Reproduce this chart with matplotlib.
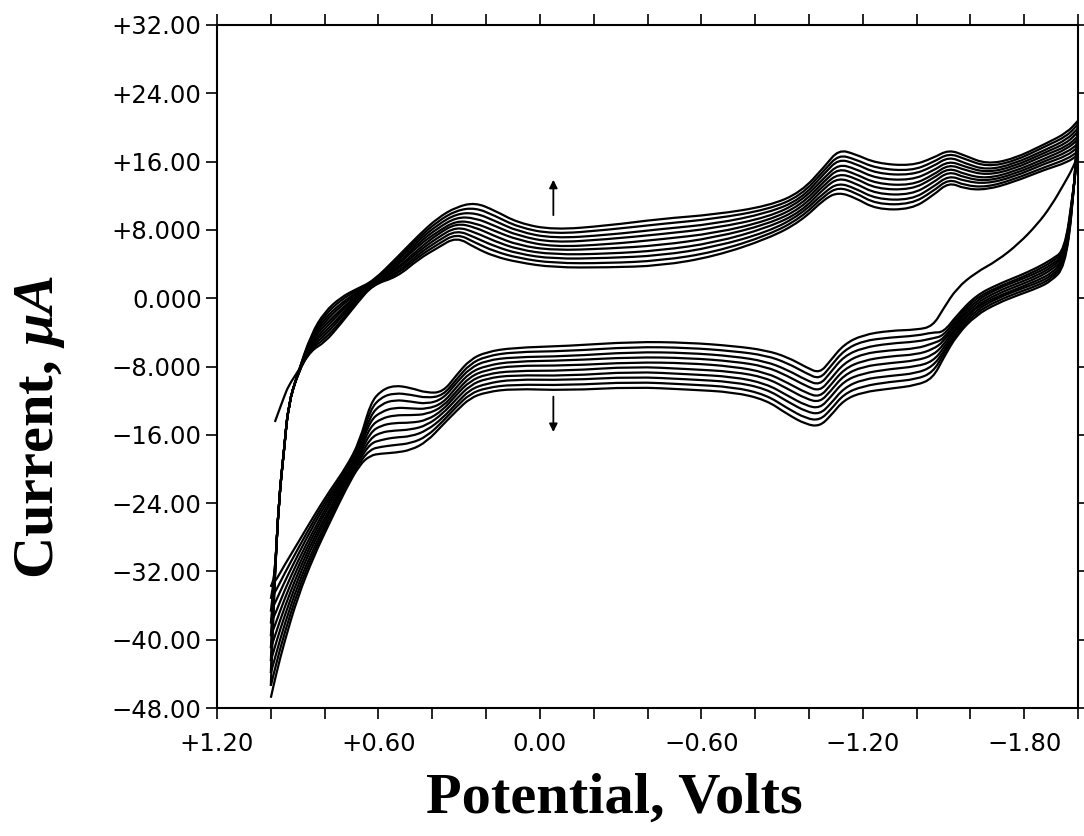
import matplotlib
matplotlib.use("Agg")
import matplotlib.pyplot as plt
from matplotlib.path import Path
from matplotlib.patches import PathPatch
import numpy as np

plt.rcParams["font.family"] = ["DejaVu Sans"]
plt.rcParams["mathtext.fontset"] = "custom"
plt.rcParams["mathtext.it"] = "Liberation Serif:italic:bold"
plt.rcParams["mathtext.rm"] = "Liberation Serif:bold"

# 数据: 10 个循环, 上支 (+1.0 -> -2.0 V), 下支 (-2.0 -> +1.0 V)
cycles = 10
upper_potential = [1.00, 0.985, 0.97, 0.95, 0.935, 0.90, 0.85, 0.80, 0.74, 0.68, 0.62,
                   0.53, 0.45, 0.38, 0.31, 0.24, 0.17, 0.08, -0.05, -0.25, -0.45, -0.65,
                   -0.85, -0.97, -1.06, -1.11, -1.17, -1.25, -1.38, -1.46, -1.52, -1.58,
                   -1.66, -1.76, -1.88, -1.96, -2.00]
# 每行: 某电位下 循环1..循环10 的电流 (uA)
upper_current = [
    [np.nan, -33.8, -35.2, -36.7, -38.1, -39.6, -41.0, -42.5, -43.9, -45.4],
    [-14.5, -32.5, -32.5, -32.5, -32.5, -32.5, -32.5, -32.5, -32.5, -32.5],
    [-13.2, -23.6, -23.6, -23.6, -23.6, -23.6, -23.6, -23.6, -23.6, -23.6],
    [-11.5, -17.5, -17.5, -17.5, -17.5, -17.5, -17.5, -17.5, -17.5, -17.5],
    [-10.3, -12.5, -12.5, -12.5, -12.5, -12.5, -12.5, -12.5, -12.5, -12.5],
    [-8.6, -8.8, -8.8, -8.8, -8.8, -8.8, -8.8, -8.8, -8.8, -8.8],
    [-6.1, -5.9, -5.7, -5.5, -5.3, -5.0, -4.8, -4.6, -4.4, -4.2],
    [-5.2, -4.8, -4.4, -4.0, -3.6, -3.2, -2.8, -2.4, -2.0, -1.6],
    [-3.0, -2.7, -2.3, -2.0, -1.6, -1.3, -0.9, -0.6, -0.2, 0.1],
    [-0.6, -0.4, -0.2, 0.0, 0.2, 0.3, 0.5, 0.7, 0.9, 1.1],
    [1.6, 1.6, 1.7, 1.7, 1.8, 1.8, 1.8, 1.9, 1.9, 2.0],
    [2.5, 2.8, 3.0, 3.3, 3.5, 3.8, 4.0, 4.3, 4.5, 4.8],
    [4.6, 4.9, 5.2, 5.5, 5.8, 6.2, 6.5, 6.8, 7.1, 7.4],
    [5.9, 6.3, 6.7, 7.1, 7.5, 7.8, 8.2, 8.6, 9.0, 9.4],
    [7.2, 7.6, 8.0, 8.4, 8.8, 9.1, 9.5, 9.9, 10.3, 10.7],
    [5.9, 6.5, 7.1, 7.7, 8.3, 8.8, 9.4, 10.0, 10.6, 11.2],
    [4.9, 5.5, 6.1, 6.7, 7.3, 7.9, 8.5, 9.1, 9.7, 10.3],
    [4.2, 4.7, 5.2, 5.7, 6.2, 6.8, 7.3, 7.8, 8.3, 8.8],
    [3.6, 4.1, 4.6, 5.1, 5.6, 6.0, 6.5, 7.0, 7.5, 8.0],
    [3.6, 4.1, 4.7, 5.2, 5.8, 6.3, 6.9, 7.4, 8.0, 8.5],
    [3.8, 4.4, 5.0, 5.6, 6.2, 6.9, 7.5, 8.1, 8.7, 9.3],
    [4.9, 5.4, 6.0, 6.5, 7.1, 7.6, 8.2, 8.7, 9.3, 9.8],
    [7.0, 7.4, 7.8, 8.3, 8.7, 9.1, 9.5, 10.0, 10.4, 10.8],
    [9.0, 9.4, 9.8, 10.1, 10.5, 10.9, 11.3, 11.6, 12.0, 12.4],
    [11.7, 12.1, 12.5, 13.0, 13.4, 13.8, 14.2, 14.7, 15.1, 15.5],
    [12.4, 13.0, 13.5, 14.1, 14.6, 15.2, 15.7, 16.3, 16.8, 17.4],
    [11.8, 12.4, 12.9, 13.5, 14.1, 14.6, 15.2, 15.8, 16.3, 16.9],
    [10.4, 11.0, 11.6, 12.2, 12.8, 13.4, 14.0, 14.6, 15.2, 15.8],
    [10.4, 11.0, 11.5, 12.1, 12.7, 13.2, 13.8, 14.4, 14.9, 15.5],
    [12.0, 12.5, 13.0, 13.5, 14.0, 14.4, 14.9, 15.4, 15.9, 16.4],
    [13.6, 14.0, 14.4, 14.9, 15.3, 15.7, 16.1, 16.6, 17.0, 17.4],
    [12.8, 13.2, 13.7, 14.1, 14.5, 15.0, 15.4, 15.8, 16.3, 16.7],
    [12.7, 13.0, 13.4, 13.7, 14.0, 14.4, 14.7, 15.0, 15.4, 15.7],
    [13.6, 13.9, 14.2, 14.5, 14.8, 15.1, 15.4, 15.7, 16.0, 16.3],
    [15.1, 15.4, 15.8, 16.1, 16.4, 16.8, 17.1, 17.4, 17.8, 18.1],
    [15.9, 16.3, 16.7, 17.1, 17.5, 17.8, 18.2, 18.6, 19.0, 19.4],
    [16.8, 17.2, 17.7, 18.1, 18.6, 19.0, 19.5, 19.9, 20.4, 20.8],
]

lower_potential = [-2.00, -1.98, -1.95, -1.90, -1.85, -1.78, -1.70, -1.62, -1.55, -1.50,
                   -1.46, -1.40, -1.30, -1.20, -1.13, -1.08, -1.04, -0.99, -0.92, -0.84,
                   -0.72, -0.55, -0.35, -0.10, 0.10, 0.20, 0.26, 0.31, 0.36, 0.42, 0.48,
                   0.54, 0.59, 0.63, 0.67, 0.72, 0.78, 0.84, 0.90, 0.95, 0.98, 1.00]
lower_current = [
    [16.8, 17.2, 17.7, 18.1, 18.6, 19.0, 19.5, 19.9, 20.4, 20.8],
    [15.2, 12.0, 11.8, 11.6, 11.4, 11.2, 11.0, 10.8, 10.6, 10.4],
    [13.5, 5.6, 5.4, 5.1, 4.9, 4.6, 4.4, 4.1, 3.9, 3.6],
    [10.8, 4.5, 4.2, 3.9, 3.6, 3.3, 2.9, 2.6, 2.3, 2.0],
    [8.7, 3.6, 3.3, 3.0, 2.7, 2.4, 2.1, 1.8, 1.5, 1.2],
    [6.4, 2.6, 2.3, 2.1, 1.8, 1.5, 1.2, 1.0, 0.7, 0.4],
    [4.4, 1.6, 1.3, 1.1, 0.8, 0.5, 0.2, 0.0, -0.3, -0.6],
    [3.0, 0.3, 0.0, -0.3, -0.6, -0.9, -1.1, -1.4, -1.7, -2.0],
    [1.2, -2.0, -2.3, -2.6, -2.9, -3.2, -3.4, -3.7, -4.0, -4.3],
    [-1.2, -4.0, -4.4, -4.8, -5.1, -5.5, -5.9, -6.3, -6.6, -7.0],
    [-3.3, -4.0, -4.7, -5.3, -6.0, -6.7, -7.4, -8.0, -8.7, -9.4],
    [-3.7, -4.4, -5.1, -5.9, -6.6, -7.3, -8.0, -8.8, -9.5, -10.2],
    [-3.8, -4.6, -5.3, -6.1, -6.8, -7.6, -8.3, -9.1, -9.8, -10.6],
    [-4.3, -5.0, -5.8, -6.5, -7.3, -8.0, -8.8, -9.5, -10.3, -11.0],
    [-5.4, -6.1, -6.8, -7.6, -8.3, -9.0, -9.7, -10.5, -11.2, -11.9],
    [-7.3, -8.0, -8.7, -9.5, -10.2, -10.9, -11.6, -12.4, -13.1, -13.8],
    [-8.8, -9.5, -10.2, -10.9, -11.6, -12.2, -12.9, -13.6, -14.3, -15.0],
    [-8.1, -8.8, -9.6, -10.3, -11.1, -11.8, -12.6, -13.3, -14.1, -14.8],
    [-6.9, -7.6, -8.4, -9.1, -9.9, -10.6, -11.4, -12.1, -12.9, -13.6],
    [-6.1, -6.7, -7.4, -8.0, -8.7, -9.3, -10.0, -10.6, -11.3, -11.9],
    [-5.6, -6.2, -6.8, -7.4, -8.0, -8.6, -9.2, -9.8, -10.4, -11.0],
    [-5.2, -5.8, -6.4, -7.0, -7.6, -8.3, -8.9, -9.5, -10.1, -10.7],
    [-5.1, -5.7, -6.3, -6.9, -7.5, -8.0, -8.6, -9.2, -9.8, -10.4],
    [-5.6, -6.2, -6.8, -7.3, -7.9, -8.5, -9.1, -9.6, -10.2, -10.8],
    [-5.8, -6.3, -6.9, -7.4, -7.9, -8.5, -9.0, -9.5, -10.1, -10.6],
    [-6.3, -6.8, -7.3, -7.9, -8.4, -8.9, -9.4, -10.0, -10.5, -11.0],
    [-7.2, -7.7, -8.2, -8.7, -9.2, -9.7, -10.2, -10.7, -11.2, -11.7],
    [-9.0, -9.5, -9.9, -10.4, -10.9, -11.3, -11.8, -12.3, -12.7, -13.2],
    [-11.0, -11.4, -11.8, -12.3, -12.7, -13.1, -13.5, -14.0, -14.4, -14.8],
    [-11.1, -11.7, -12.4, -13.0, -13.6, -14.3, -14.9, -15.5, -16.2, -16.8],
    [-10.5, -11.3, -12.1, -12.9, -13.7, -14.6, -15.4, -16.2, -17.0, -17.8],
    [-10.2, -11.1, -11.9, -12.8, -13.7, -14.6, -15.5, -16.3, -17.2, -18.1],
    [-10.8, -11.6, -12.4, -13.3, -14.1, -14.9, -15.7, -16.6, -17.4, -18.2],
    [-12.3, -13.0, -13.7, -14.3, -15.0, -15.7, -16.4, -17.0, -17.7, -18.4],
    [-16.8, -17.1, -17.4, -17.7, -18.0, -18.3, -18.6, -18.9, -19.2, -19.5],
    [-19.8, -20.1, -20.4, -20.6, -20.9, -21.2, -21.4, -21.7, -22.0, -22.3],
    [-22.5, -22.9, -23.3, -23.7, -24.1, -24.6, -25.0, -25.4, -25.8, -26.2],
    [-25.5, -26.0, -26.5, -27.1, -27.6, -28.1, -28.6, -29.2, -29.7, -30.2],
    [-28.7, -29.4, -30.1, -30.8, -31.5, -32.2, -32.9, -33.6, -34.3, -35.0],
    [-31.3, -32.3, -33.3, -34.3, -35.3, -36.3, -37.3, -38.3, -39.3, -40.3],
    [-33.0, -34.2, -35.4, -36.7, -37.9, -39.1, -40.3, -41.6, -42.8, -44.0],
    [-33.8, -35.2, -36.7, -38.1, -39.6, -41.0, -42.5, -43.9, -45.4, -46.8],
]

x_major = [1.2, 0.6, 0.0, -0.6, -1.2, -1.8]
x_labels = ["+1.20", "+0.60", "0.00", "\u22120.60", "\u22121.20", "\u22121.80"]
y_ticks = [32, 24, 16, 8, 0, -8, -16, -24, -32, -40, -48]
y_labels = ["+32.00", "+24.00", "+16.00", "+8.000", "0.000", "\u22128.000",
            "\u221216.00", "\u221224.00", "\u221232.00", "\u221240.00", "\u221248.00"]


def smooth_path(v, i):
    # 用二次贝塞尔把读数点连成平滑曲线 (经过相邻点中点)
    ok = ~np.isnan(i)
    p = np.column_stack([v[ok], i[ok]])
    verts = [p[0], (p[0] + p[1]) / 2]
    codes = [Path.MOVETO, Path.LINETO]
    for j in range(1, len(p) - 1):
        verts += [p[j], (p[j] + p[j + 1]) / 2]
        codes += [Path.CURVE3, Path.CURVE3]
    verts.append(p[-1])
    codes.append(Path.LINETO)
    return Path(verts, codes)


fig = plt.figure(figsize=(10.84, 8.36), dpi=100)
ax = fig.add_axes([0.2002, 0.1531, 0.7943, 0.8170])

up = np.array(upper_current)
lo = np.array(lower_current)
v_all = np.array(upper_potential + lower_potential)
for k in range(cycles):
    i_all = np.concatenate([up[:, k], lo[:, k]])
    ax.add_patch(PathPatch(smooth_path(v_all, i_all), fill=False,
                           edgecolor="black", lw=1.6, joinstyle="round"))

# 箭头
ax.annotate("", xy=(-0.05, 14.2), xytext=(-0.05, 9.4),
            arrowprops=dict(arrowstyle="-|>", color="black", lw=1.3, mutation_scale=12))
ax.annotate("", xy=(-0.05, -16.0), xytext=(-0.05, -11.2),
            arrowprops=dict(arrowstyle="-|>", color="black", lw=1.3, mutation_scale=12))

ax.set_xlim(1.2, -2.0)
ax.set_ylim(-48, 32)
ax.set_xticks(x_major)
ax.set_xticklabels(x_labels)
ax.set_xticks(np.arange(-2.0, 1.21, 0.2), minor=True)
ax.set_yticks(y_ticks)
ax.set_yticklabels(y_labels)

ax.tick_params(which="both", direction="out", top=True, right=True,
               length=8, width=1.2, labelsize=17.5)
ax.tick_params(axis="x", pad=9)
ax.tick_params(axis="y", pad=3)
for s in ax.spines.values():
    s.set_linewidth(1.5)

fig.text(0.037, 0.49, r"Current, $\mu A$", rotation=90, ha="center", va="center",
         fontsize=42, fontweight="bold", family="Liberation Serif")
fig.text(0.567, 0.045, "Potential, Volts", ha="center", va="center",
         fontsize=42, fontweight="bold", family="Liberation Serif")

fig.savefig("out.png", dpi=100)
